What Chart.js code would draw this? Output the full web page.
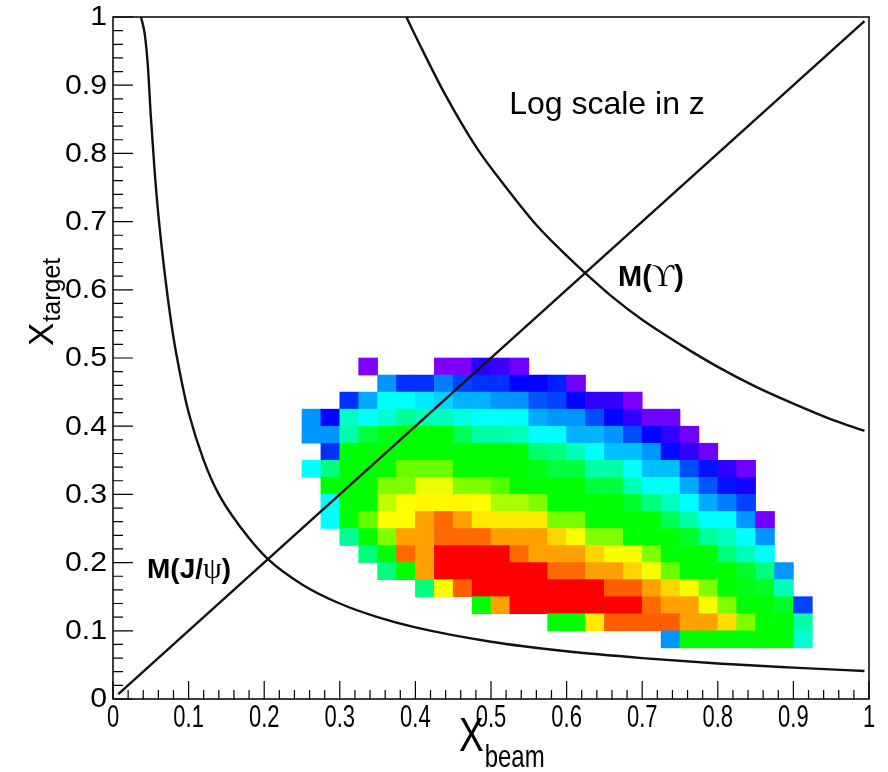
<!DOCTYPE html>
<html><head><meta charset="utf-8">
<script src="https://cdn.jsdelivr.net/npm/chart.js@4.4.1/dist/chart.umd.min.js"></script>
<style>html,body{margin:0;padding:0;background:#fff;}#wrap{width:888px;height:772px;}</style>
</head><body><div id="wrap"><canvas id="c" width="888" height="772"></canvas></div>
<script>
// ---- data ----
const binWidth = 0.025;
const xBinLow = [0.25,0.275,0.3,0.325,0.35,0.375,0.4,0.425,0.45,0.475,0.5,0.525,0.55,0.575,0.6,0.625,0.65,0.675,0.7,0.725,0.75,0.775,0.8,0.825,0.85,0.875,0.9];
const yBinLow = [0.475,0.45,0.425,0.4,0.375,0.35,0.325,0.3,0.275,0.25,0.225,0.2,0.175,0.15,0.125,0.1,0.075];
const _ = null;
const counts = [
 [_,_,_,1,_,_,_,1,1,1.7,1.5,1.1,_,_,_,_,_,_,_,_,_,_,_,_,_,_,_],
 [_,_,_,_,5.3,2.9,2.9,4.6,3.2,2.9,2.9,2.2,2.2,2.6,1.1,_,_,_,_,_,_,_,_,_,_,_,_],
 [_,_,2.9,6,10,10,8.8,7.7,6.3,6.3,5.3,5.3,3.6,3.2,2.2,1.6,1.6,1,_,_,_,_,_,_,_,_,_],
 [5.3,2.2,14,10,13,19,15,15,12,10,10,10,6,5.3,5.3,3.4,2.2,1.6,1.1,1.1,_,_,_,_,_,_,_],
 [5.3,5.3,17,32,41,46,46,46,28,17,17,15,10,10,6.3,6.3,5.3,3.4,2.2,1.6,1.1,_,_,_,_,_,_],
 [_,2.9,46,46,46,46,46,46,46,46,46,46,24,22,15,10,6.8,6.8,5.3,2.3,1.6,1.1,_,_,_,_,_],
 [10,22,46,46,46,88,88,88,46,46,46,46,41,32,32,17,17,10,6.8,6.8,3.4,2.4,1.6,1.1,_,_,_],
 [_,46,46,46,100,100,190,190,100,100,77,46,46,46,46,32,32,16,10,10,6,3.6,2.4,1.9,_,_,_],
 [_,10,46,46,147,215,227,227,227,215,129,129,100,46,46,46,46,36,22,15,10,6,4.6,3.2,_,_,_],
 [_,10,46,88,215,215,378,528,378,245,245,245,245,95,95,46,46,46,46,28,17,10,10,5.3,1.1,_,_],
 [_,_,19,46,100,378,378,528,528,528,378,378,378,278,205,100,100,46,46,46,36,18,15,10,5.3,_,_],
 [_,_,_,22,46,528,378,1000,1000,1000,1000,528,378,378,378,278,205,205,100,46,46,46,22,15,10,_,_],
 [_,_,_,_,22,46,378,1000,1000,1000,1000,1000,1000,528,528,378,378,278,205,88,46,46,46,36,22,5.3,_],
 [_,_,_,_,_,_,22,205,569,1000,1000,1000,1000,1000,1000,1000,569,569,378,278,205,100,46,41,36,15,_],
 [_,_,_,_,_,_,_,_,_,46,378,1000,1000,1000,1000,1000,1000,1000,528,378,378,205,100,46,46,36,3.2],
 [_,_,_,_,_,_,_,_,_,_,_,_,_,46,46,245,569,569,569,569,378,378,264,100,46,46,17],
 [_,_,_,_,_,_,_,_,_,_,_,_,_,_,_,_,_,_,_,5.3,46,46,46,46,46,46,13]
];
const jpsiCurve = [[0.037,1.0],[0.042,0.975],[0.046,0.93],[0.05,0.855],[0.055,0.775],[0.06,0.71],[0.07,0.61],[0.08,0.53],[0.09,0.47],[0.1,0.42],[0.12,0.35],[0.14,0.3],[0.17,0.25],[0.205,0.205],[0.25,0.168],[0.3,0.14],[0.35,0.12],[0.4,0.105],[0.5,0.084],[0.6,0.07],[0.7,0.06],[0.8,0.052],[0.9,0.046],[0.994,0.041]];
const upsilonCurve = [[0.388,1.0],[0.41,0.95],[0.44,0.885],[0.48,0.81],[0.52,0.75],[0.56,0.695],[0.6,0.65],[0.625,0.624],[0.66,0.59],[0.7,0.556],[0.75,0.52],[0.8,0.487],[0.85,0.458],[0.9,0.433],[0.95,0.41],[0.994,0.393]];
const diagonal = [[0.007,0.007],[0.994,0.994]];
const tickValues = [0,0.1,0.2,0.3,0.4,0.5,0.6,0.7,0.8,0.9,1];

// ---- styling / build ----
const SANS = '"Liberation Sans", Arial, Helvetica, sans-serif';
const SERIF = '"Liberation Serif", "DejaVu Serif", serif';
function zColor(z){
  const t = Math.min(1, Math.max(0, Math.log10(z)/3));
  return 'hsl(' + (270*(1-t)).toFixed(1) + ',100%,50%)';
}
const cells = [], cellColors = [];
yBinLow.forEach((yl, r) => xBinLow.forEach((xl, k) => {
  const z = counts[r][k];
  if (z == null) return;
  cells.push({x: xl + binWidth/2, y: [yl, yl + binWidth]});
  cellColors.push(zColor(z));
}));
const toXY = arr => arr.map(([x, y]) => ({x, y}));
const lineStyle = {type:'line', borderColor:'#111', borderWidth:2.4, pointRadius:0, fill:false, order:0};

const annotations = [
  {x:0.524, y:0.858, parts:[['Log scale in z', '32px ' + SANS]]},
  {x:0.668, y:0.605, parts:[['M(', 'bold 29px ' + SANS], ['\u03D2', '31px ' + SERIF], [')', 'bold 29px ' + SANS]]},
  {x:0.045, y:0.178, parts:[['M(J/', 'bold 28px ' + SANS], ['\u03C8', '30px ' + SERIF], [')', 'bold 28px ' + SANS]]}
];

function drawParts(ctx, x, y, parts){
  let cx = x;
  for (const [t, f] of parts){ ctx.font = f; ctx.fillText(t, cx, y); cx += ctx.measureText(t).width; }
}

const decor = {
  id: 'decor',
  afterDraw(chart){
    const {ctx, chartArea: a} = chart;
    const xs = chart.scales.x, ys = chart.scales.y;
    ctx.save();
    ctx.fillStyle = '#000'; ctx.strokeStyle = '#000';
    // frame
    ctx.lineWidth = 1.5;
    ctx.strokeRect(a.left, a.top, a.right - a.left, a.bottom - a.top);
    // ticks (major 0.1, minor 0.02), pointing inwards
    ctx.lineWidth = 1.2;
    ctx.beginPath();
    for (let i = 0; i <= 50; i++){
      const v = i/50, major = (i % 5 === 0);
      const px = xs.getPixelForValue(v);
      ctx.moveTo(px, a.bottom); ctx.lineTo(px, a.bottom - (major ? 18 : 9));
      const py = ys.getPixelForValue(v);
      ctx.moveTo(a.left, py); ctx.lineTo(a.left + (major ? 20 : 10), py);
    }
    ctx.stroke();
    // tick labels
    const fmt = v => String(+v.toFixed(1));
    ctx.textAlign = 'center'; ctx.textBaseline = 'alphabetic';
    xs.ticks.forEach(t => {
      const px = xs.getPixelForValue(t.value);
      ctx.save(); ctx.translate(px, a.bottom + 28); ctx.scale(1, 1.45);
      ctx.font = '22px ' + SANS; ctx.fillText(fmt(t.value), 0, 0); ctx.restore();
    });
    ctx.textAlign = 'right'; ctx.textBaseline = 'middle';
    ys.ticks.forEach(t => {
      const py = ys.getPixelForValue(t.value);
      ctx.save(); ctx.translate(a.left - 6, py + 1); ctx.scale(1.12, 1);
      ctx.font = '27px ' + SANS; ctx.fillText(fmt(t.value), 0, 0); ctx.restore();
    });
    // axis titles
    ctx.textAlign = 'left'; ctx.textBaseline = 'alphabetic';
    ctx.save(); ctx.translate(459, 751); ctx.scale(1, 1.3);
    ctx.font = '37px ' + SANS; ctx.fillText('X', 0, 0);
    const wX = ctx.measureText('X').width;
    ctx.font = '24px ' + SANS; ctx.fillText('beam', wX + 1, 12);
    ctx.restore();
    ctx.save(); ctx.translate(53, 346); ctx.rotate(-Math.PI/2);
    ctx.font = '35px ' + SANS; ctx.fillText('X', 0, 0);
    const wY = ctx.measureText('X').width;
    ctx.font = '25px ' + SANS; ctx.fillText('target', wY + 1, 7);
    ctx.restore();
    // annotations
    annotations.forEach(an => drawParts(ctx, xs.getPixelForValue(an.x), ys.getPixelForValue(an.y), an.parts));
    ctx.restore();
  }
};

new Chart(document.getElementById('c'), {
  type: 'bar',
  data: {
    datasets: [
      Object.assign({label:'J/psi', data: toXY(jpsiCurve), cubicInterpolationMode:'monotone'}, lineStyle),
      Object.assign({label:'Upsilon', data: toXY(upsilonCurve), cubicInterpolationMode:'monotone'}, lineStyle),
      Object.assign({label:'diagonal', data: toXY(diagonal)}, lineStyle),
      {type:'bar', label:'counts', data: cells, backgroundColor: cellColors, borderWidth:0,
       barPercentage:1, categoryPercentage:1, order:1}
    ]
  },
  options: {
    responsive: false, animation: false, events: [],
    devicePixelRatio: 1,
    layout: {padding: {left:0, right:19, top:17, bottom:0}},
    plugins: {legend: {display:false}, tooltip: {enabled:false}},
    scales: {
      x: {type:'linear', min:0, max:1, offset:false,
          grid: {display:false, offset:false}, border:{display:false},
          ticks: {display:false, stepSize:0.1},
          afterBuildTicks: s => { s.ticks = tickValues.map(v => ({value:v})); },
          afterFit: s => { s.height = 73; }},
      y: {type:'linear', min:0, max:1,
          grid: {display:false}, border:{display:false},
          ticks: {display:false, stepSize:0.1},
          afterBuildTicks: s => { s.ticks = tickValues.map(v => ({value:v})); },
          afterFit: s => { s.width = 113; }}
    }
  },
  plugins: [decor]
});
</script>
</body></html>
